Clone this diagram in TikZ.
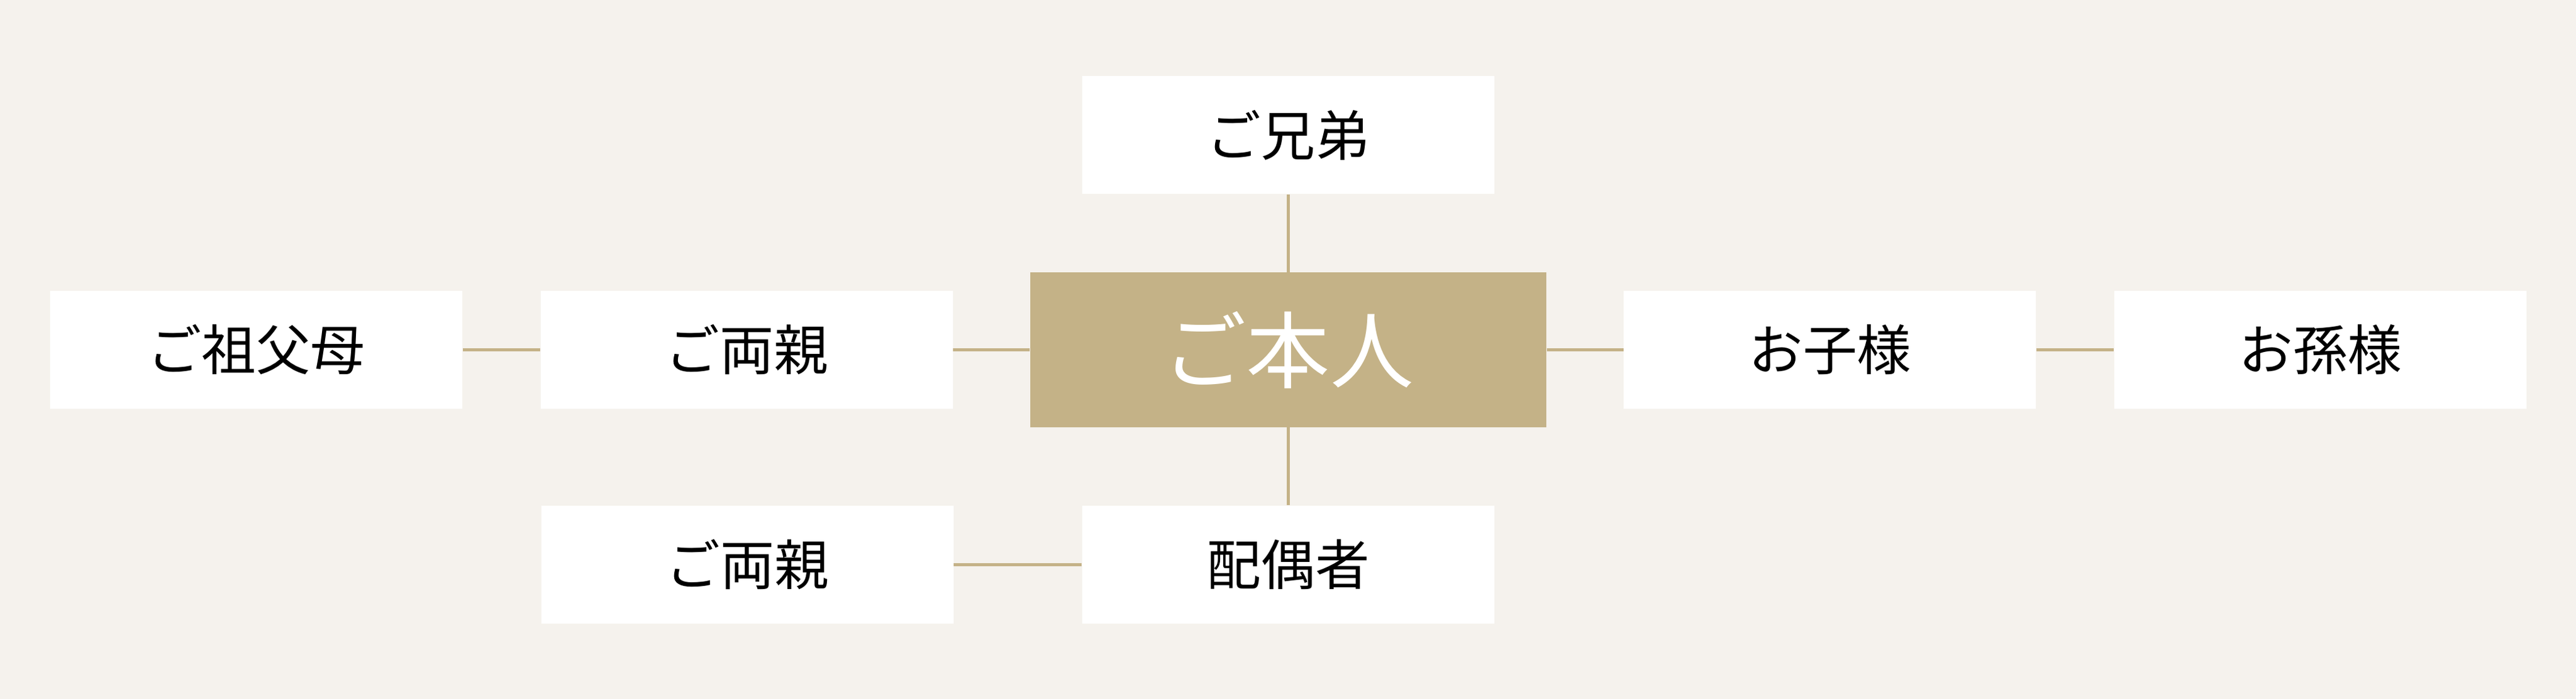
\documentclass[tikz,border=0pt]{standalone}
\usepackage{fontspec}
\usepackage{tikz}
\usetikzlibrary{positioning}
\setmainfont{Noto Sans CJK JP}
\definecolor{bgbeige}{RGB}{245,242,237}
\definecolor{tan}{RGB}{196,178,135}

\begin{document}
\begin{tikzpicture}[
        member/.style={fill=white, inner sep=0pt, minimum width=6.67cm, minimum height=1.91cm, font=\fontsize{25pt}{30pt}\selectfont},
        me/.style={fill=tan, text=white, inner sep=0pt, minimum width=8.35cm, minimum height=2.5cm, font=\fontsize{38.5pt}{46pt}\selectfont},
        tie/.style={draw=tan, line width=0.045cm}]
                \fill[bgbeige] (0,0) rectangle (41.68,-11.32);
                \node[me] (self) at (20.845,-5.665) {ご本人};
                \node[member, above=1.26cm of self] (sibling) {ご兄弟};
                \node[member, below=1.26cm of self] (spouse) {配偶者};
                \node[member, left=1.24cm of self] (parents) {ご両親};
                \node[member, left=1.25cm of parents] (grandparents) {ご祖父母};
                \node[member, left=2.07cm of spouse] (inlaws) {ご両親};
                \node[member, right=1.24cm of self] (children) {お子様};
                \node[member, right=1.25cm of children] (grandchildren) {お孫様};
                \draw[tie] (sibling) -- (self) -- (spouse) (spouse) -- (inlaws);
                \draw[tie] (grandparents) -- (parents) -- (self) -- (children) -- (grandchildren);
            \end{tikzpicture}
\end{document}
